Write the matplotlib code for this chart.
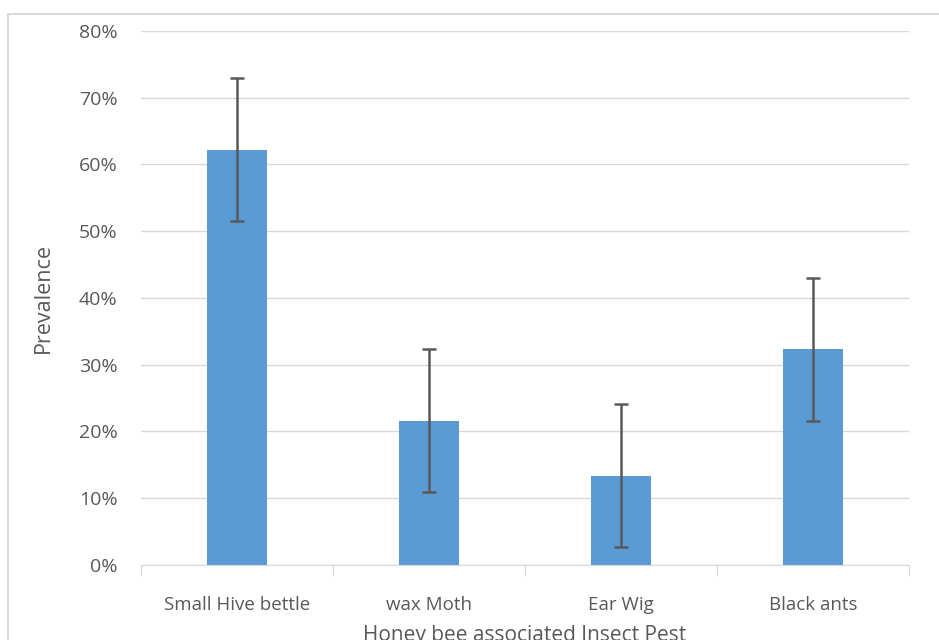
import matplotlib.pyplot as plt
from matplotlib.patches import Rectangle
from matplotlib.ticker import PercentFormatter
import numpy as np

# Datos
plagas = ['Small Hive bettle', 'wax Moth', 'Ear Wig', 'Black ants']
prevalencia = [62.2, 21.6, 13.4, 32.3]
error = [10.7, 10.7, 10.7, 10.7]

plt.rcParams['font.family'] = ['Open Sans', 'DejaVu Sans']

fig = plt.figure(figsize=(9.39, 6.4), dpi=100)
ax = fig.add_axes([0.1502, 0.1172, 0.8178, 0.8344])

# marco gris alrededor del grafico
fig.patches.append(Rectangle((0.0085, -0.05), 1.1, 0.978 + 0.05, transform=fig.transFigure,
                             fill=False, edgecolor='#d9d9d9', linewidth=1.5))

x = np.arange(len(plagas))
ax.bar(x, prevalencia, width=0.31, color='#5b9bd5', zorder=2)
ax.errorbar(x, prevalencia, yerr=error, fmt='none', ecolor='#595959',
            elinewidth=1.8, capsize=5, capthick=1.8, zorder=3)

ax.set_xlim(-0.5, len(plagas) - 0.5)
ax.set_ylim(0, 80)
ax.set_yticks(np.arange(0, 81, 10))
ax.yaxis.set_major_formatter(PercentFormatter(decimals=0))
ax.grid(axis='y', color='#d9d9d9', linewidth=1, zorder=0)

ax.set_xticks(x)
ax.set_xticklabels(plagas)
ax.set_xticks(np.arange(-0.5, len(plagas), 1), minor=True)
ax.tick_params(axis='x', which='major', length=0, pad=22, labelsize=13.5, labelcolor='#595959')
ax.tick_params(axis='x', which='minor', length=8, color='#d9d9d9', width=1)
ax.tick_params(axis='y', length=0, pad=17, labelsize=14, labelcolor='#595959')

for s in ['top', 'right', 'left']:
    ax.spines[s].set_visible(False)
ax.spines['bottom'].set_color('#d9d9d9')

ax.set_ylabel('Prevalence', fontsize=15.5, color='#595959', labelpad=18)
ax.set_xlabel('Honey bee associated Insect Pest', fontsize=15, color='#595959', labelpad=8)

fig.savefig('out.png', dpi=100)
